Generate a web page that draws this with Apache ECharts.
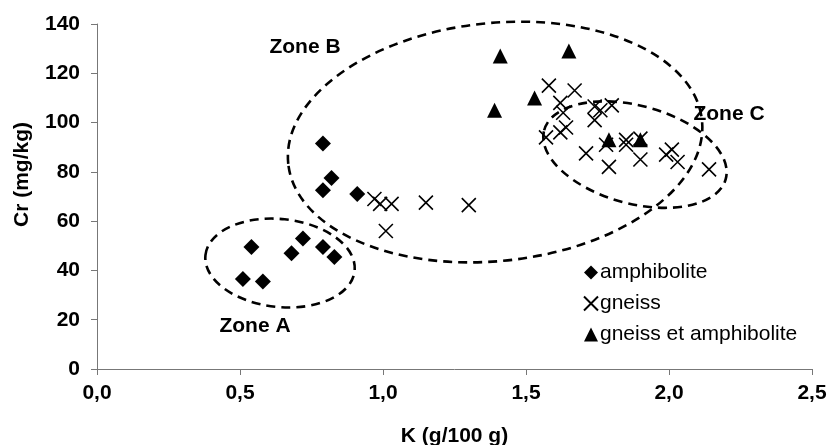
<!DOCTYPE html>
<html>
<head>
<meta charset="utf-8">
<script src="https://cdn.jsdelivr.net/npm/echarts@6/dist/echarts.min.js"></script>
<style>
  html, body { margin: 0; padding: 0; background: #fff; }
  #chart { width: 829px; height: 445px; }
</style>
</head>
<body>
<div id="chart"></div>
<script>
// amphibolite [K, Cr]
var amphiboliteK  = [0.79, 0.82, 0.79, 0.54, 0.72, 0.68, 0.79, 0.83, 0.51, 0.58, 0.91];
var amphiboliteCr = [91.5, 77.5, 72.5, 49.5, 53, 47, 49.5, 45.5, 36.5, 35.5, 71];

// gneiss
var gneissK  = [0.97, 0.99, 1.03, 1.15, 1.30, 1.01,
                1.58, 1.67, 1.62, 1.63, 1.64, 1.62, 1.57,
                1.74, 1.76, 1.80, 1.74,
                1.71, 1.79, 1.78, 1.85, 1.85, 1.90, 1.90, 1.99, 2.01, 2.03, 2.14];
var gneissCr = [69, 67, 67, 67.5, 66.5, 56,
                115, 113, 108, 104, 98, 96, 94,
                106.5, 105, 107, 101,
                87.5, 82, 91, 93, 91, 85, 93.5, 87, 89, 84, 81];

// gneiss et amphibolite
var mixedK  = [1.39, 1.41, 1.53, 1.65, 1.79, 1.90];
var mixedCr = [105, 127, 110, 129, 93, 93];

// axis ticks
var xTicks = [0, 0.5, 1.0, 1.5, 2.0, 2.5];
var yTicks = [0, 20, 40, 60, 80, 100, 120, 140];

// zones (centre in data units)
var zoneNames  = ['Zone A', 'Zone B', 'Zone C'];
var zoneCentK  = [0.64, 1.392, 1.881];
var zoneCentCr = [43, 92.1, 87];

function pairs(xs, ys) {
  var out = [];
  for (var i = 0; i < xs.length; i++) out.push([xs[i], ys[i]]);
  return out;
}

var font = 'Liberation Sans, Arial, sans-serif';
var crossPath = 'path://M0,0L10,10M10,0L0,10';

var chart = echarts.init(document.getElementById('chart'));

var option = {
  animation: false,
  grid: { left: 97, right: 17, top: 24, bottom: 76, containLabel: false, outerBoundsMode: 'none' },
  legend: {
    orient: 'vertical',
    left: 578,
    top: 257,
    itemGap: 10,
    itemWidth: 14,
    itemHeight: 14,
    textStyle: { fontFamily: font, fontSize: 21, color: '#000', padding: [0, 0, 0, -3] },
    data: ['amphibolite', 'gneiss', 'gneiss et amphibolite']
  },
  xAxis: {
    type: 'value',
    min: xTicks[0],
    max: xTicks[xTicks.length - 1],
    interval: 0.5,
    name: 'K (g/100 g)',
    nameLocation: 'middle',
    nameGap: 57,
    nameTextStyle: { fontFamily: font, fontSize: 21, fontWeight: 'bold', color: '#000' },
    axisLine: { lineStyle: { color: '#777', width: 1 } },
    axisTick: { inside: false, length: 6, lineStyle: { color: '#777' } },
    axisLabel: {
      margin: 14,
      fontFamily: font, fontSize: 21, fontWeight: 'bold', color: '#000',
      formatter: function(v) { return v.toFixed(1).replace('.', ','); }
    },
    splitLine: { show: false }
  },
  yAxis: {
    type: 'value',
    min: yTicks[0],
    max: yTicks[yTicks.length - 1],
    interval: 20,
    name: 'Cr (mg/kg)',
    nameLocation: 'middle',
    nameGap: 64,
    nameTextStyle: { fontFamily: font, fontSize: 21, fontWeight: 'bold', color: '#000', padding: [0, 0, 0, 44] },
    axisLine: { show: true, lineStyle: { color: '#777', width: 1 } },
    axisTick: { show: true, length: 6, lineStyle: { color: '#777' } },
    axisLabel: { margin: 17, fontFamily: font, fontSize: 21, fontWeight: 'bold', color: '#000' },
    splitLine: { show: false }
  },
  series: [
    {
      name: 'amphibolite',
      type: 'scatter',
      symbol: 'diamond',
      symbolSize: 16,
      itemStyle: { color: '#000', opacity: 1 },
      data: pairs(amphiboliteK, amphiboliteCr)
    },
    {
      name: 'gneiss',
      type: 'scatter',
      symbol: crossPath,
      symbolSize: 14,
      itemStyle: { color: '#000', borderColor: '#000', borderWidth: 1.6, opacity: 1 },
      data: pairs(gneissK, gneissCr)
    },
    {
      name: 'gneiss et amphibolite',
      type: 'scatter',
      symbol: 'triangle',
      symbolSize: [15, 15],
      itemStyle: { color: '#000', opacity: 1 },
      data: pairs(mixedK, mixedCr)
    }
  ]
};

chart.setOption(option);

// dashed zone ellipses and their labels (pixel sizes, centres from data)
var zoneShape = [
  { rx: 75,  ry: 44,  rot: -6 },
  { rx: 208, ry: 119, rot: 6 },
  { rx: 94,  ry: 49,  rot: -15 }
];
var zoneLabelPos = [[255, 326], [305, 47], [729, 114]];

var graphics = [];
for (var z = 0; z < zoneNames.length; z++) {
  var c = chart.convertToPixel({ gridIndex: 0 }, [zoneCentK[z], zoneCentCr[z]]);
  graphics.push({
    type: 'ellipse',
    x: c[0], y: c[1],
    rotation: zoneShape[z].rot * Math.PI / 180,
    shape: { cx: 0, cy: 0, rx: zoneShape[z].rx, ry: zoneShape[z].ry },
    style: { fill: 'none', stroke: '#000', lineWidth: 2.6, lineDash: [9, 6] },
    silent: true,
    z: 1
  });
  graphics.push({
    type: 'text',
    x: zoneLabelPos[z][0], y: zoneLabelPos[z][1],
    style: {
      text: zoneNames[z], fill: '#000',
      font: 'bold 21px ' + font,
      textAlign: 'center', textVerticalAlign: 'middle'
    },
    z: 5
  });
}
chart.setOption({ graphic: graphics });
</script>
</body>
</html>
